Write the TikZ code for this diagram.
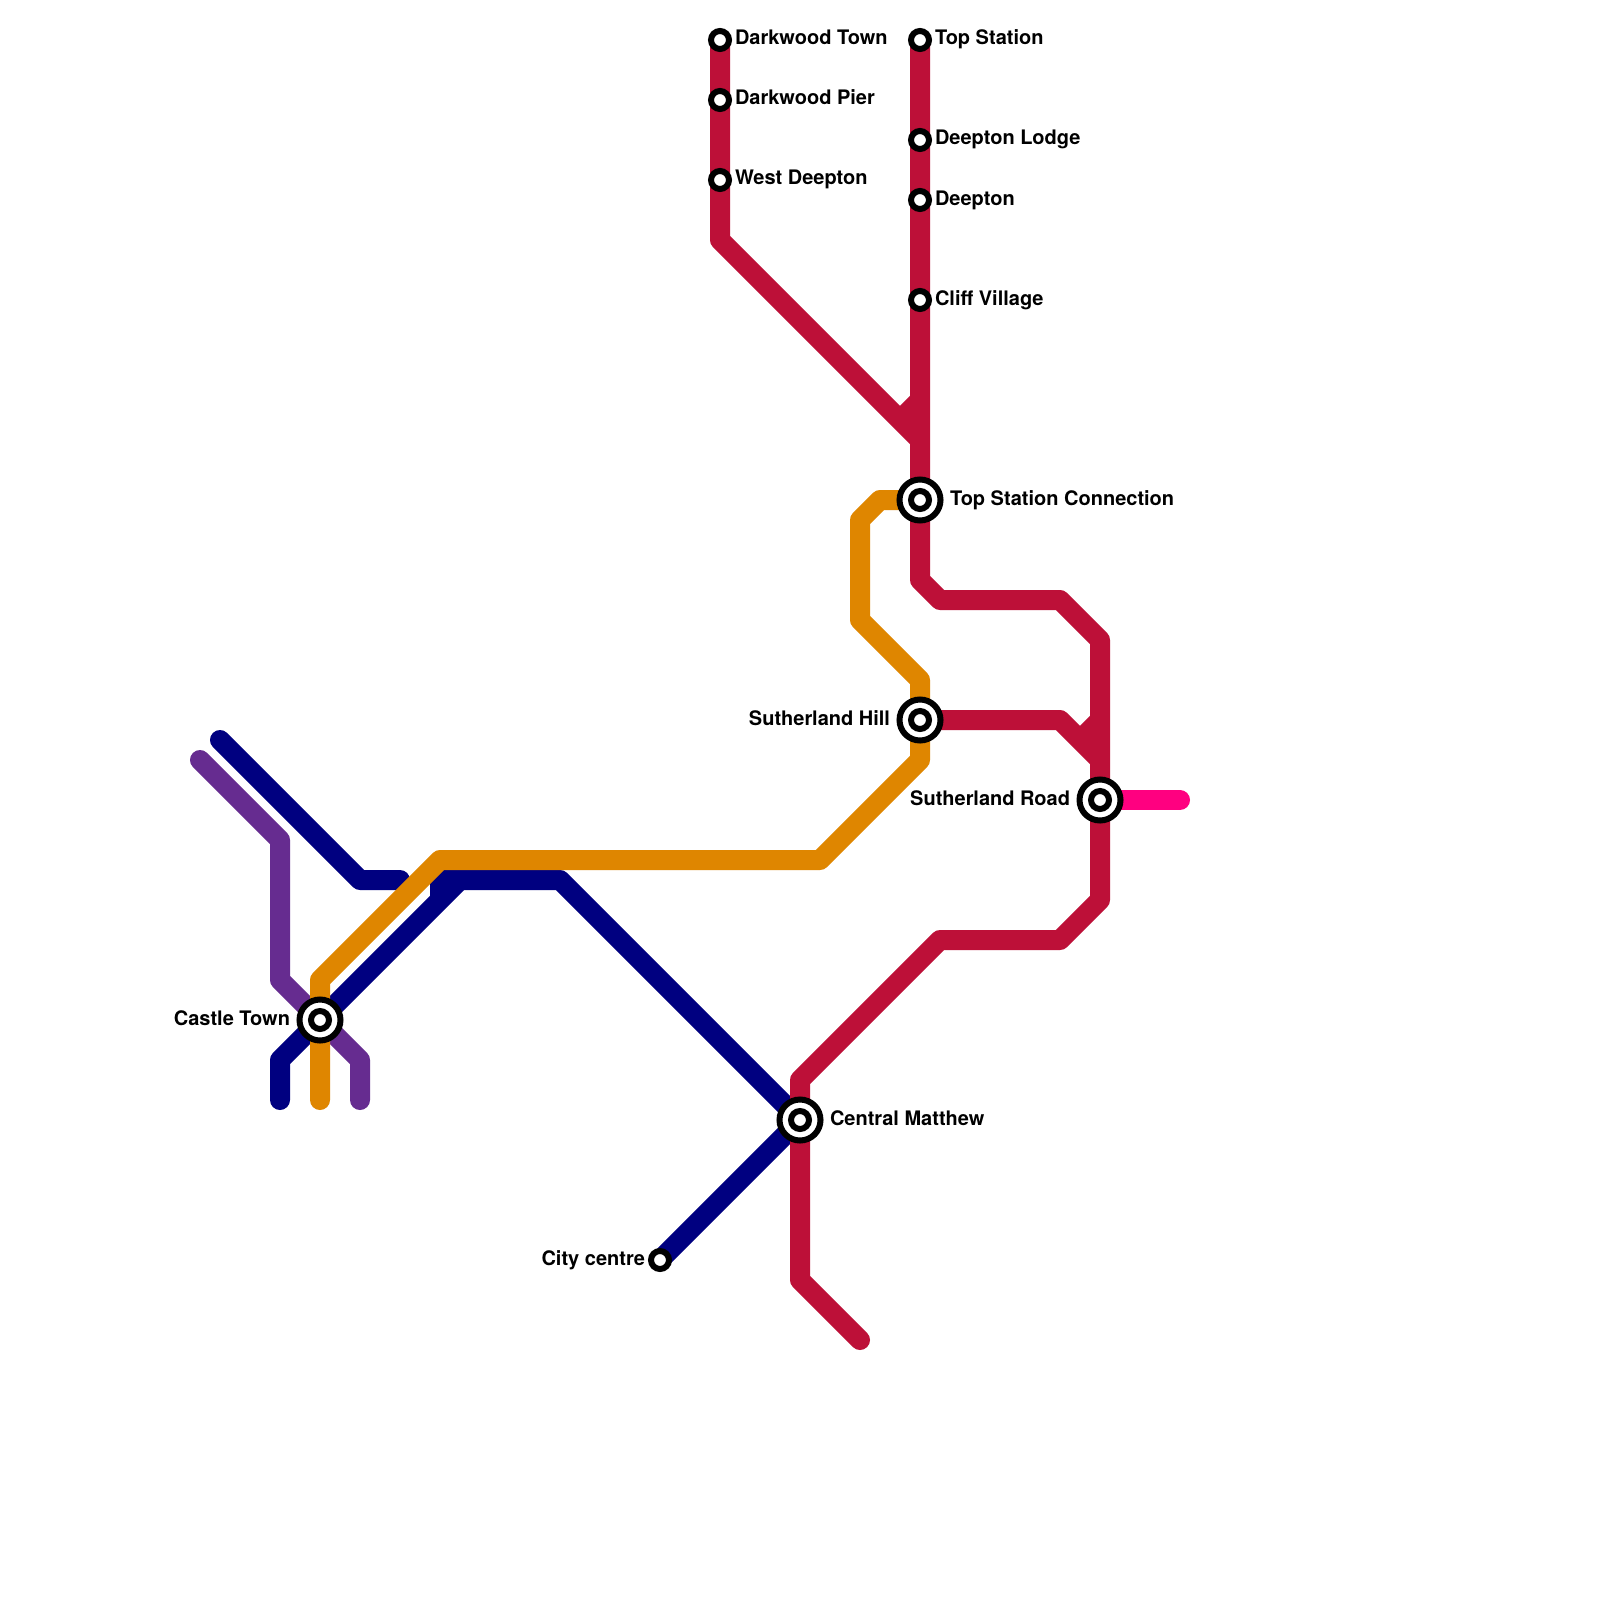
\documentclass[tikz,border=0pt]{standalone}
\usepackage{fontspec}
\setmainfont{TeX Gyre Heros}
\definecolor{lred}{HTML}{BD1038}
\definecolor{lorange}{HTML}{DF8600}
\definecolor{lnavy}{HTML}{000080}
\definecolor{lpurple}{HTML}{662C90}
\definecolor{lpink}{HTML}{FF0080}
\tikzset{
  line/.style={line width=10pt,line join=round},
  rline/.style={line,line cap=round},
  hub/.style={circle,draw=black,fill=white,line width=3pt,minimum size=20.5pt,inner sep=0pt,outer sep=0pt,
    path picture={\draw[black,line width=3pt] (path picture bounding box.center) circle (4.5pt);}},
  halt/.style={circle,draw=black,fill=white,line width=3pt,minimum size=9pt,inner sep=0pt,outer sep=0pt},
  lbl/.style={font=\fontsize{10pt}{12pt}\selectfont\bfseries,text=black,inner sep=0pt,outer sep=0pt},
  lw/.style={lbl,anchor=base west},
  le/.style={lbl,anchor=base east}
}
\begin{document}
\begin{tikzpicture}[x=0.5pt,y=-0.5pt]
\useasboundingbox[fill=white] (0,0) rectangle (1600,1600);
% station positions
\coordinate (pdt) at (720,40);
\coordinate (pdp) at (720,100);
\coordinate (pwd) at (720,180);
\coordinate (pts) at (920,40);
\coordinate (pdl) at (920,140);
\coordinate (pde) at (920,200);
\coordinate (pcv) at (920,300);
\coordinate (ptc) at (920,500);
\coordinate (psh) at (920,720);
\coordinate (psr) at (1100,800);
\coordinate (pcm) at (800,1120);
\coordinate (pcc) at (660,1260);
\coordinate (pct) at (320,1020);
% free line ends
\coordinate (ePurpleA) at (200,760);
\coordinate (ePurpleB) at (360,1100);
\coordinate (eNavyA) at (220,740);
\coordinate (eNavyB) at (400,880);
\coordinate (eNavyC) at (280,1100);
\coordinate (eOrange) at (320,1100);
\coordinate (ePink) at (1180,800);
\coordinate (eRed) at (860,1340);
% purple
\draw[rline,lpurple] (ePurpleA) -- (280,840) -- (280,980) -- (pct) -- (360,1060) -- (ePurpleB);
% navy
\draw[rline,lnavy] (eNavyA) -- (360,880) -- (eNavyB);
\draw[line,lnavy] (pcm) -- (560,880) -- (440,880) -- (440,900);
\draw[line,lnavy] (pct) -- (460,880);
\draw[rline,lnavy] (pct) -- (280,1060) -- (eNavyC);
\draw[rline,lnavy] (pcc) -- (pcm);
% orange
\draw[rline,lorange] (ptc) -- (880,500) -- (860,520) -- (860,620) -- (920,680) -- (psh) -- (920,760) -- (820,860) -- (440,860) -- (320,980) -- (pct) -- (eOrange);
% pink
\draw[rline,lpink] (psr) -- (ePink);
% red
\draw[line,lred] (pts) -- (920,580) -- (940,600) -- (1060,600) -- (1100,640) -- (psr) -- (1100,900) -- (1060,940) -- (940,940) -- (800,1080) -- (pcm);
\draw[rline,lred] (pcm) -- (800,1280) -- (eRed);
\draw[line,lred] (pdt) -- (720,240) -- (920,440);
\draw[line,lred] (920,400) -- (900,420);
\draw[line,lred] (psh) -- (1060,720) -- (1100,760);
\draw[line,lred] (1100,720) -- (1080,740);
% stations
\node[hub] (ct) at (pct) {};
\node[hub] (cm) at (pcm) {};
\node[hub] (tc) at (ptc) {};
\node[hub] (sh) at (psh) {};
\node[hub] (sr) at (psr) {};
\node[halt] (dt) at (pdt) {};
\node[halt] (dp) at (pdp) {};
\node[halt] (wd) at (pwd) {};
\node[halt] (ts) at (pts) {};
\node[halt] (dl) at (pdl) {};
\node[halt] (de) at (pde) {};
\node[halt] (cv) at (pcv) {};
\node[halt] (cc) at (pcc) {};
% labels
\node[lw] (ldt) at (735,45) {Darkwood Town};
\node[lw] (ldp) at (735,104.5) {Darkwood Pier};
\node[lw] (lwd) at (735,184.5) {West Deepton};
\node[lw] (lts) at (935,45) {Top Station};
\node[lw] (ldl) at (935,145) {Deepton Lodge};
\node[lw] (lde) at (935,205) {Deepton};
\node[lw] (lcv) at (935,305) {Cliff Village};
\node[lw] (ltc) at (950,505) {Top Station Connection};
\node[le] (lsh) at (890,725) {Sutherland Hill};
\node[le] (lsr) at (1070,805) {Sutherland Road};
\node[lw] (lcm) at (830,1125) {Central Matthew};
\node[le] (lcc) at (645,1265) {City centre};
\node[le] (lct) at (290,1025) {Castle Town};
\end{tikzpicture}
\end{document}
